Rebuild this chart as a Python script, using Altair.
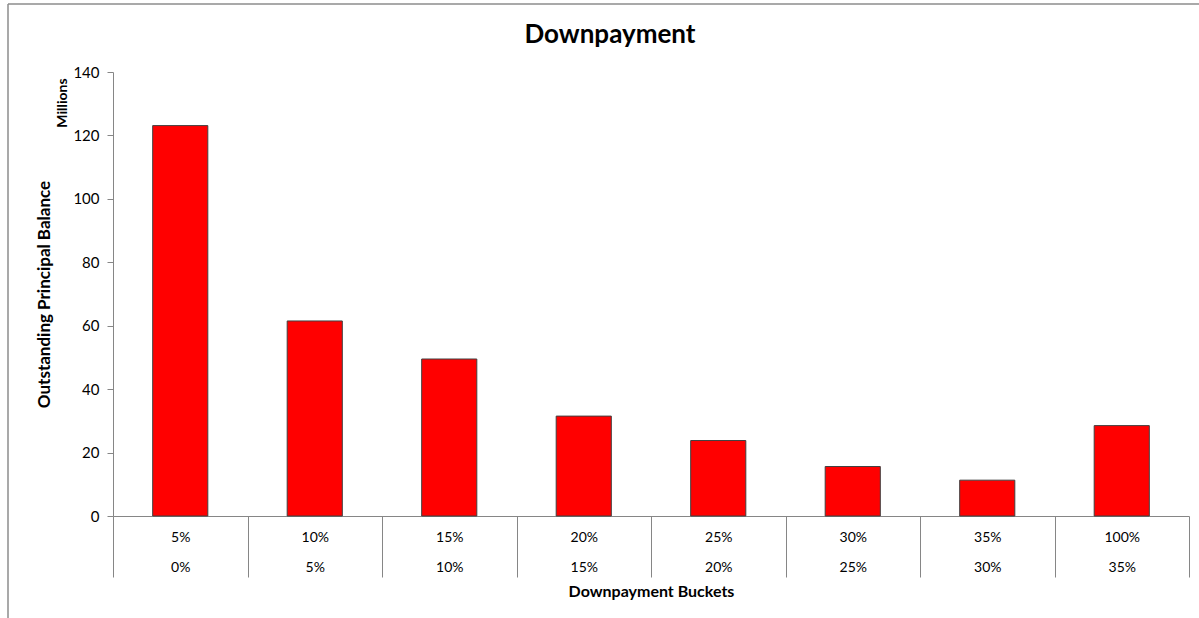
import altair as alt
import pandas as pd

upper = ["5%", "10%", "15%", "20%", "25%", "30%", "35%", "100%"]
lower = ["0%", "5%", "10%", "15%", "20%", "25%", "30%", "35%"]
balance = [123.1, 61.5, 49.5, 31.5, 23.8, 15.6, 11.3, 28.5]

df = pd.DataFrame({
    "bucket": [f"{u}|{l}" for u, l in zip(upper, lower)],
    "balance": balance,
})

FONT = "Lato"
W, H = 1076, 444

bars = alt.Chart(df).mark_bar(color="#ff0000", stroke="#404040", strokeWidth=1,
                              width=alt.RelativeBandSize(0.41)).encode(
    x=alt.X("bucket:N", sort=None,
            scale=alt.Scale(paddingInner=0, paddingOuter=0),
            axis=alt.Axis(title="Downpayment Buckets", titleFont=FONT, titleFontSize=16,
                          titleFontWeight="bold", titleColor="#000", titleY=75,
                          titleBaseline="middle",
                          labelExpr="split(datum.label, '|')", labelFont=FONT,
                          labelFontSize=14, labelColor="#000", labelLineHeight=30,
                          labelAngle=0, labelPadding=-40, tickBand="extent",
                          tickSize=61, tickColor="#868686", domainColor="#868686",
                          labelBaseline="middle")),
    y=alt.Y("balance:Q",
            scale=alt.Scale(domain=[0, 140], nice=False),
            axis=alt.Axis(title="Outstanding Principal Balance", values=[0, 20, 40, 60, 80, 100, 120, 140],
                          titleFont=FONT, titleFontSize=17, titleFontWeight="bold",
                          titleColor="#000", titleX=-69, titleBaseline="middle", grid=False,
                          labelFont=FONT, labelFontSize=15, labelColor="#000",
                          tickSize=6, tickColor="#868686", domainColor="#868686",
                          labelPadding=8)),
)

millions = alt.Chart(pd.DataFrame({"t": ["Millions"]})).mark_text(
    angle=270, font=FONT, fontSize=14, fontWeight="bold", color="#000", align="center", baseline="middle"
).encode(text="t:N", x=alt.value(-50), y=alt.value(31))

title = alt.Chart(pd.DataFrame({"t": ["Downpayment"]})).mark_text(
    font=FONT, fontSize=26, fontWeight="bold", color="#000", align="center", baseline="middle"
).encode(text="t:N", x=alt.value(497), y=alt.value(-37))

frame_top = alt.Chart(pd.DataFrame({"a": [0]})).mark_rule(color="#8c8c8c", strokeWidth=1.5).encode(
    x=alt.value(-105), x2=alt.value(1200), y=alt.value(-68))
frame_left = alt.Chart(pd.DataFrame({"a": [0]})).mark_rule(color="#8c8c8c", strokeWidth=1.5).encode(
    x=alt.value(-105), y=alt.value(-68), y2=alt.value(560))

chart = alt.layer(bars, millions, title, frame_top, frame_left).properties(
    width=W, height=H,
    autosize=alt.AutoSizeParams(type="none"),
    padding={"left": 113, "top": 72, "right": 10, "bottom": 102},
).configure(background="white").configure_view(strokeWidth=0)

chart.save("out.html", embed_options={"renderer": "svg", "actions": False})
